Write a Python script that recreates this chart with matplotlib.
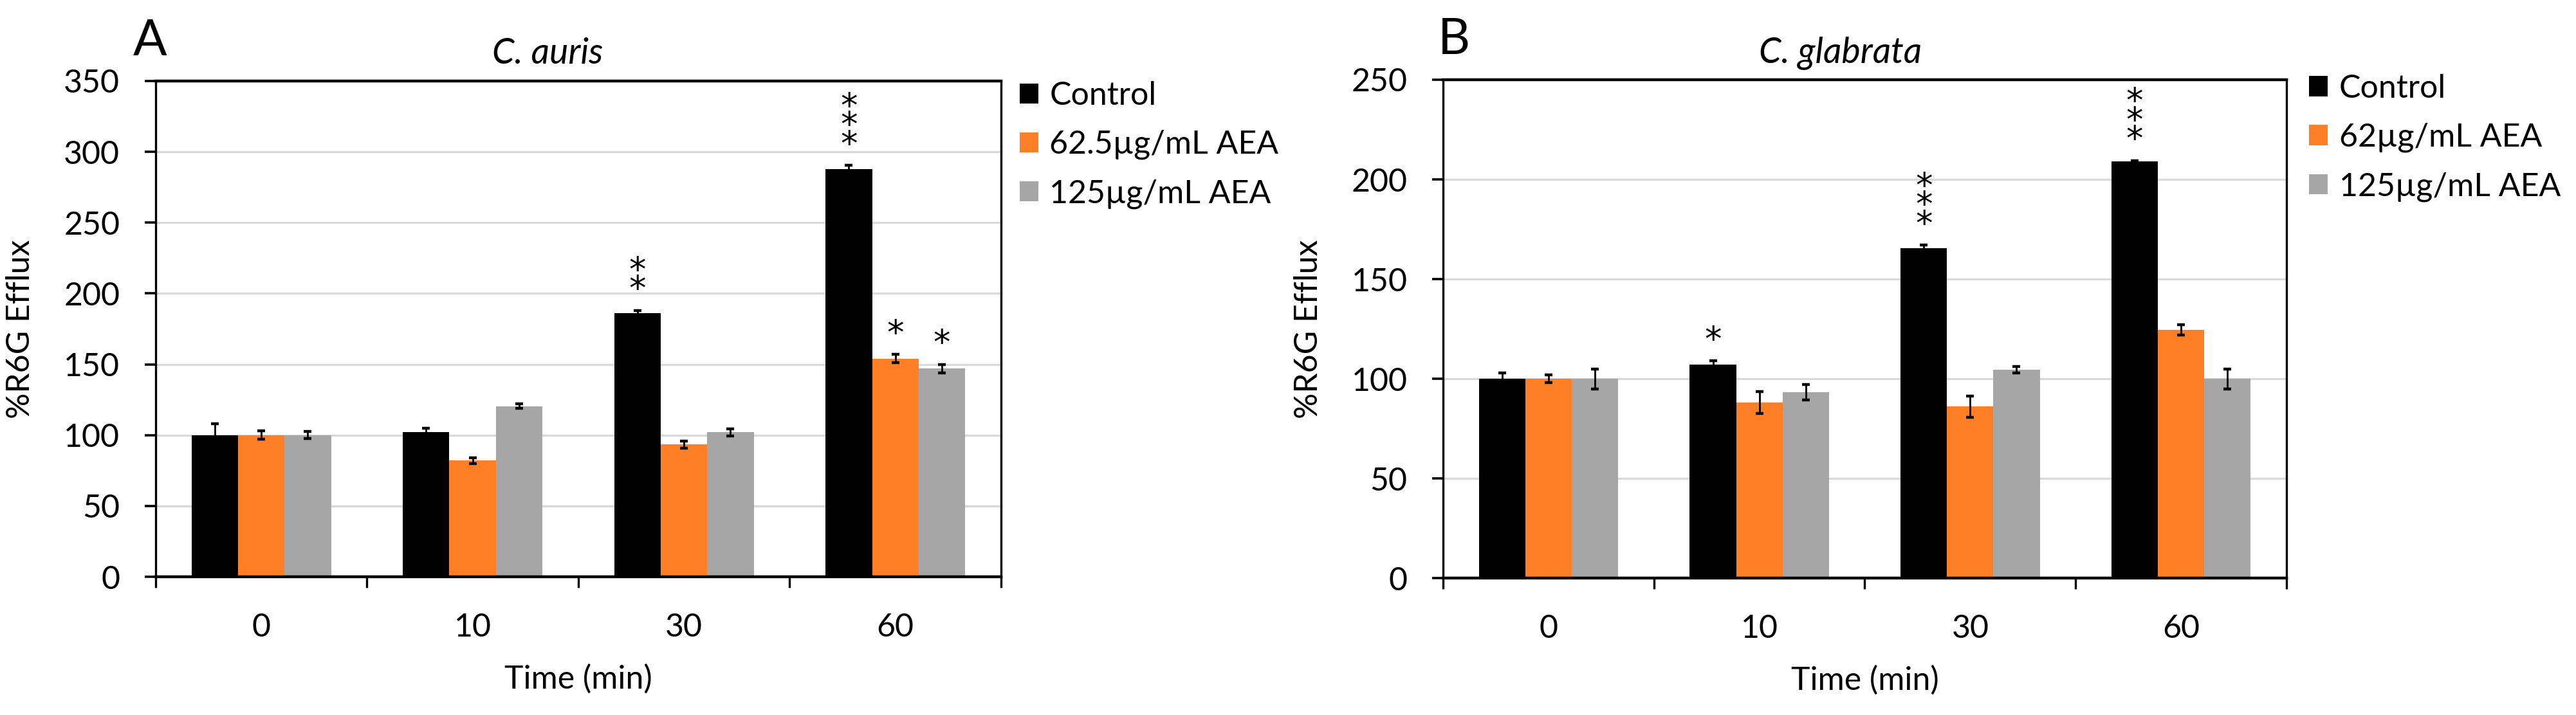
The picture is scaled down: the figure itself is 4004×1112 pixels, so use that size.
import numpy as np
import matplotlib
matplotlib.use("Agg")
import matplotlib.pyplot as plt

plt.rcParams['font.family'] = ['Liberation Sans Narrow', 'Lato', 'DejaVu Sans']

times = ["0", "10", "30", "60"]

# panel A - C. auris
auris_labels = ["Control", "62.5µg/mL AEA", "125µg/mL AEA"]
auris_control = [100, 102, 186, 288]
auris_control_err = [8, 3, 2, 2.5]
auris_low = [100, 82, 93.5, 154]
auris_low_err = [3, 2, 2.5, 3]
auris_high = [100, 120.5, 102, 147]
auris_high_err = [2.5, 1.5, 2.5, 3]
# (time index, series index, number of stars)
auris_stars = [(2, 0, 2), (3, 0, 3), (3, 1, 1), (3, 2, 1)]

# panel B - C. glabrata
glab_labels = ["Control", "62µg/mL AEA", "125µg/mL AEA"]
glab_control = [100, 107, 165.5, 209]
glab_control_err = [3, 2, 1.5, 0.5]
glab_low = [100, 88, 86, 124.5]
glab_low_err = [2, 5.5, 5.3, 2.5]
glab_high = [100, 93.3, 104.5, 100]
glab_high_err = [5, 3.8, 1.5, 5]
glab_stars = [(1, 0, 1), (2, 0, 3), (3, 0, 3)]

colors = ["#000000", "#FF7F27", "#A6A6A6"]


def draw_panel(ax, letter, title, labels, series, errs, stars, ymax, legend_x, legend_y):
    x = np.arange(len(times))
    w = 0.22
    offsets = [-w, 0, w]
    for vals, err, col, lab, off in zip(series, errs, colors, labels, offsets):
        ax.bar(x + off, vals, width=w, color=col, label=lab, zorder=2)
        ax.errorbar(x + off, vals, yerr=err, fmt='none', ecolor='black',
                    elinewidth=1.0, capsize=2.2, capthick=1.6, zorder=3)

    # significance marks, stacked vertically
    for ti, si, n in stars:
        top = series[si][ti] + errs[si][ti]
        ax.annotate("\n".join(["*"] * n), (x[ti] + offsets[si], top), xytext=(0, 2),
                    textcoords='offset points', ha='center', va='bottom',
                    fontsize=19, family='DejaVu Sans', linespacing=0.45, zorder=4)

    ax.set_xlim(-0.5, len(times) - 0.5)
    ax.set_ylim(0, ymax)
    ax.set_yticks(np.arange(0, ymax + 1, 50))
    ax.yaxis.grid(True, color='#d9d9d9', linewidth=1.1)
    ax.set_axisbelow(True)

    ax.set_xticks(np.arange(-0.5, len(times), 1.0))
    ax.set_xticklabels([])
    ax.set_xticks(x, minor=True)
    ax.set_xticklabels(times, minor=True, fontsize=18)
    ax.tick_params(axis='x', which='major', direction='out', length=6, width=1.2)
    ax.tick_params(axis='x', which='minor', length=0, pad=20)
    ax.tick_params(axis='y', direction='out', length=6, width=1.3, labelsize=18, pad=14)

    for s in ax.spines.values():
        s.set_linewidth(1.2)
    ax.spines['bottom'].set_linewidth(1.6)
    ax.spines['top'].set_linewidth(1.6)

    ax.set_ylabel("%R6G Efflux", fontsize=18)
    ax.yaxis.set_label_coords(-0.142, 0.5)
    ax.text(0.5, -0.206, "Time (min)", transform=ax.transAxes, ha='center',
            va='center', fontsize=18)
    ax.text(title[1], 1.035, title[0], transform=ax.transAxes, ha='center',
            va='baseline', fontsize=20, style='italic')
    ax.text(letter[1], 1.052, letter[0], transform=ax.transAxes, ha='left',
            va='baseline', fontsize=28)

    ax.legend(loc='upper left', bbox_to_anchor=(legend_x, legend_y), frameon=False,
              fontsize=18, borderaxespad=0, borderpad=0, handlelength=0.58,
              handleheight=0.58, handletextpad=0.35, labelspacing=0.6)


fig = plt.figure(figsize=(20.02, 5.56), dpi=200)
axA = fig.add_axes([0.0604, 0.1933, 0.3282, 0.6934])
axB = fig.add_axes([0.5602, 0.1915, 0.3274, 0.6970])

draw_panel(axA, ("A", -0.027), ("C. auris", 0.464), auris_labels,
           [auris_control, auris_low, auris_high],
           [auris_control_err, auris_low_err, auris_high_err],
           auris_stars, 350, 1.022, 1.0)
draw_panel(axB, ("B", -0.006), ("C. glabrata", 0.471), glab_labels,
           [glab_control, glab_low, glab_high],
           [glab_control_err, glab_low_err, glab_high_err],
           glab_stars, 250, 1.027, 1.012)

fig.savefig("out.png", dpi=200)
